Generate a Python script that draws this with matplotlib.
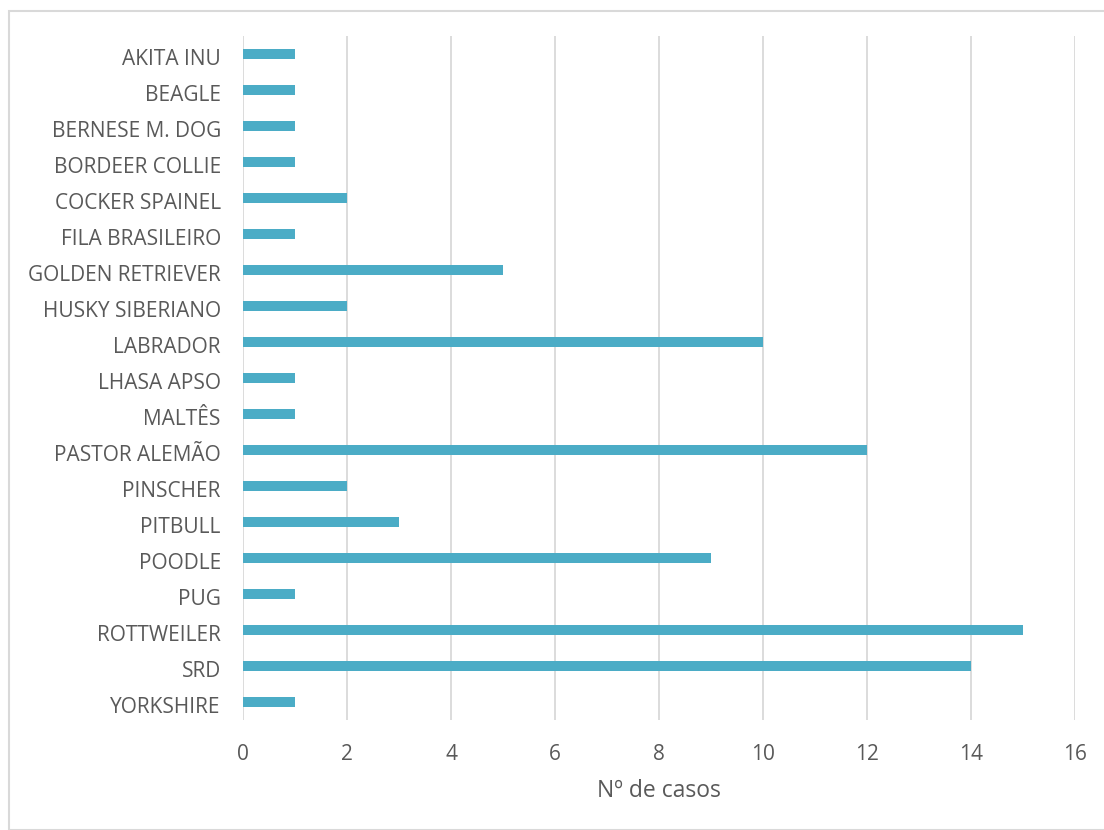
import matplotlib
matplotlib.use("Agg")
import matplotlib.pyplot as plt
import matplotlib.transforms as mtransforms
from matplotlib.patches import Rectangle

breeds = ["AKITA INU", "BEAGLE", "BERNESE M. DOG", "BORDEER COLLIE", "COCKER SPAINEL",
          "FILA BRASILEIRO", "GOLDEN RETRIEVER", "HUSKY SIBERIANO", "LABRADOR",
          "LHASA APSO", "MALTÊS", "PASTOR ALEMÃO", "PINSCHER", "PITBULL", "POODLE",
          "PUG", "ROTTWEILER", "SRD", "YORKSHIRE"]
cases = [1, 1, 1, 1, 2, 1, 5, 2, 10, 1, 1, 12, 2, 3, 9, 1, 15, 14, 1]
xticks = [0, 2, 4, 6, 8, 10, 12, 14, 16]

plt.rcParams['font.family'] = ['Open Sans', 'DejaVu Sans']
text_color = "#595959"
grid_color = "#D9D9D9"
bar_color = "#4BACC6"

fig = plt.figure(figsize=(11.04, 8.30), dpi=100)
ax = fig.add_axes([243/1104, 1-720/830, (1075-243)/1104, 684/830])

ypos = list(range(len(breeds)))
ax.barh(ypos, cases, height=0.3, color=bar_color, zorder=3)
ax.set_ylim(len(breeds)-0.5, -0.5)
ax.set_xlim(0, 16)
ax.set_yticks(ypos)
ax.set_yticklabels(breeds, fontsize=15, color=text_color)
ax.set_xticks(xticks)
ax.set_xticklabels([str(t) for t in xticks], fontsize=15, color=text_color)
ax.tick_params(axis='both', length=0)
ax.tick_params(axis='y', pad=16)
ax.tick_params(axis='x', pad=17)
ax.grid(axis='x', color=grid_color, linewidth=1.3, zorder=0)
for s in ax.spines.values():
    s.set_visible(False)
ax.set_xlabel("Nº de casos", fontsize=16.5, color=text_color, labelpad=10)

offset = mtransforms.ScaledTranslation(0, -3/100, fig.dpi_scale_trans)
for lbl in ax.get_yticklabels():
    lbl.set_transform(lbl.get_transform() + offset)

fig.patches.append(Rectangle((9/1104, 0), 1.0, 1-11/830, transform=fig.transFigure,
                             fill=False, edgecolor=grid_color, linewidth=1.5))

fig.savefig("out.png", dpi=100)
